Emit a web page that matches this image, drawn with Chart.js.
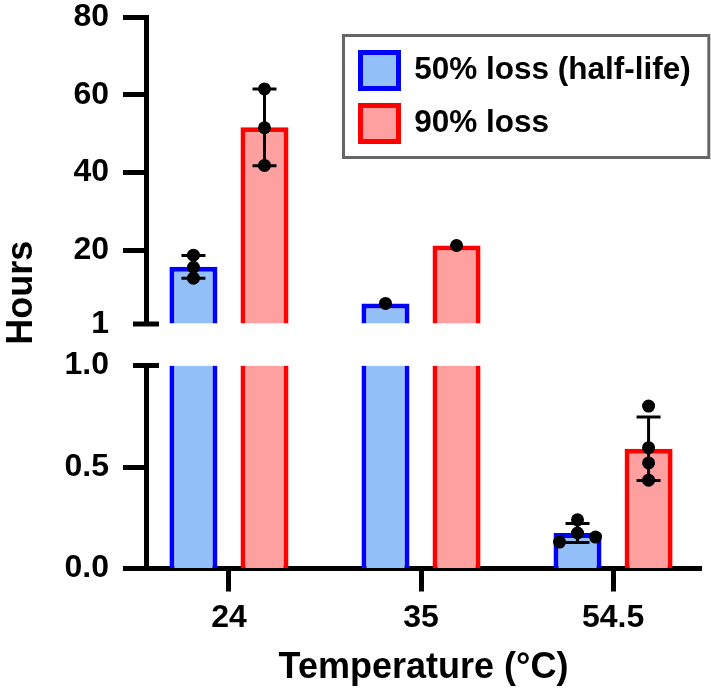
<!DOCTYPE html>
<html>
<head>
<meta charset="utf-8">
<script src="https://cdn.jsdelivr.net/npm/chart.js@4.4.0/dist/chart.umd.min.js"></script>
<style>
  html, body { margin: 0; padding: 0; background: #fff; }
  #wrap { width: 711px; height: 695px; }
</style>
</head>
<body>
<div id="wrap"><canvas id="chart" width="711" height="695"></canvas></div>
<script>
// categories and series
const categories = ['24', '35', '54.5'];
const seriesNames = ['50% loss (half-life)', '90% loss'];

// bar heights (mean hours)
const halfLifeMean = [15.7, 6.3, 0.175];
const ninetyMean = [51.6, 21.2, 0.59];
// standard deviations (null = only one replicate)
const halfLifeSD = [2.95, null, 0.047];
const ninetySD = [9.85, null, 0.156];
// individual replicates
const halfLifeReps = [[18.7, 15.6, 12.8], [6.3], [0.24, 0.175, 0.155, 0.13]];
const ninetyReps = [[61.5, 51.5, 41.8], [21.2], [0.8, 0.595, 0.52, 0.435]];

// axis ticks (y axis is broken at 1)
const topTicks = [1, 20, 40, 60, 80];
const topTickLabels = ['1', '20', '40', '60', '80'];
const bottomTicks = [0, 0.5, 1];
const bottomTickLabels = ['0.0', '0.5', '1.0'];
const BREAK = 1;

const FONT = 'Liberation Sans, Arial, Helvetica, sans-serif';
const tickFont = { family: FONT, size: 32, weight: 'bold' };
const titleFont = { family: FONT, size: 36, weight: 'bold' };
const legendFont = { family: FONT, size: 31.5, weight: 'bold' };

const blueFill = '#93c0f8', blueLine = '#0000ff';
const redFill = '#ffa0a0', redLine = '#ff0000';

const lowPart = vals => vals.map((v, i) => ({ x: i, y: Math.min(v, BREAK) }));
const highPart = vals => vals.map((v, i) => ({ x: i, y: v > BREAK ? v : null }));
// bars cut by the break lose their top border in the lower panel
const lowBorder = c => (c.raw && c.raw.y >= BREAK)
  ? { top: 0, left: 5, right: 5, bottom: 0 }
  : { top: 5, left: 5, right: 5, bottom: 0 };
const highBorder = { top: 5, left: 5, right: 5, bottom: 0 };

const barCommon = { categoryPercentage: 0.74, barPercentage: 0.676, borderSkipped: false };

// fixed width for the y axes, no extra label padding above / below
const fitY = w => s => { s.width = w; s.paddingTop = 0; s.paddingBottom = 0; };

const extras = {
  id: 'extras',
  afterLayout(chart) {
    const lg = chart.legend;
    lg.left = 343.5;
    lg.top = 35.5;
    lg.right = lg.left + lg.width;
  },
  afterDatasetsDraw(chart) {
    const ctx = chart.ctx;
    const yTop = chart.scales.yTop, yBot = chart.scales.yBot;
    const yOf = v => v > BREAK ? yTop.getPixelForValue(v) : yBot.getPixelForValue(v);
    const axisX = chart.chartArea.left;
    ctx.save();
    ctx.strokeStyle = '#000';
    ctx.fillStyle = '#000';
    // caps at the axis break
    ctx.lineWidth = 5;
    [yTop.getPixelForValue(BREAK), yBot.getPixelForValue(BREAK)].forEach(py => {
      ctx.beginPath();
      ctx.moveTo(axisX - 13, py);
      ctx.lineTo(axisX + 13, py);
      ctx.stroke();
    });
    // error bars and replicate dots
    [[halfLifeMean, halfLifeSD, halfLifeReps], [ninetyMean, ninetySD, ninetyReps]].forEach(([means, sds, reps], s) => {
      const bars = chart.getDatasetMeta(s).data;
      means.forEach((m, i) => {
        const cx = bars[i].x;
        if (sds[i] != null) {
          const y1 = yOf(m + sds[i]), y0 = yOf(m - sds[i]);
          ctx.lineWidth = 3;
          ctx.beginPath();
          ctx.moveTo(cx, y1); ctx.lineTo(cx, y0);
          ctx.moveTo(cx - 12, y1); ctx.lineTo(cx + 12, y1);
          ctx.moveTo(cx - 12, y0); ctx.lineTo(cx + 12, y0);
          ctx.stroke();
        }
        const placed = [];
        reps[i].forEach(v => {
          const py = yOf(v);
          let dx = 0;
          for (const off of [0, 18, -18, 36, -36]) {
            if (placed.every(p => Math.hypot(p.x - off, p.y - py) >= 10)) { dx = off; break; }
          }
          placed.push({ x: dx, y: py });
          ctx.beginPath();
          ctx.arc(cx + dx, py, 6.5, 0, Math.PI * 2);
          ctx.fill();
        });
      });
    });
    ctx.restore();
  },
  afterDraw(chart) {
    const lg = chart.legend;
    const hb = lg.legendHitBoxes;
    if (!hb || !hb.length) return;
    const ctx = chart.ctx;
    const l = lg.left, t = lg.top;
    const r = Math.max(...hb.map(h => h.left + h.width)) + 18;
    const last = hb[hb.length - 1];
    const b = last.top + last.height + 16;
    ctx.save();
    ctx.strokeStyle = '#666';
    ctx.lineWidth = 3;
    ctx.strokeRect(l, t, r - l, b - t);
    ctx.restore();
  }
};

const yTickColor = c => (c.tick && c.tick.value === BREAK) ? 'rgba(0,0,0,0)' : '#000';

new Chart(document.getElementById('chart'), {
  type: 'bar',
  data: {
    datasets: [
      { label: seriesNames[0], data: lowPart(halfLifeMean), yAxisID: 'yBot', stack: 'a',
        backgroundColor: blueFill, borderColor: blueLine, borderWidth: lowBorder, ...barCommon },
      { label: seriesNames[1], data: lowPart(ninetyMean), yAxisID: 'yBot', stack: 'b',
        backgroundColor: redFill, borderColor: redLine, borderWidth: lowBorder, ...barCommon },
      { label: seriesNames[0], data: highPart(halfLifeMean), yAxisID: 'yTop', stack: 'a', base: BREAK,
        backgroundColor: blueFill, borderColor: blueLine, borderWidth: highBorder, ...barCommon },
      { label: seriesNames[1], data: highPart(ninetyMean), yAxisID: 'yTop', stack: 'b', base: BREAK,
        backgroundColor: redFill, borderColor: redLine, borderWidth: highBorder, ...barCommon }
    ]
  },
  options: {
    responsive: false,
    animation: false,
    events: [],
    layout: { padding: { top: 17, right: 10, bottom: 0, left: 0 } },
    plugins: {
      tooltip: { enabled: false },
      legend: {
        display: true,
        position: 'chartArea',
        align: 'start',
        labels: {
          boxWidth: 38,
          boxHeight: 36,
          padding: 17,
          color: '#000',
          font: legendFont,
          generateLabels: () => [
            { text: seriesNames[0], fillStyle: blueFill, strokeStyle: blueLine, lineWidth: 5, hidden: false, datasetIndex: 0 },
            { text: seriesNames[1], fillStyle: redFill, strokeStyle: redLine, lineWidth: 5, hidden: false, datasetIndex: 1 }
          ]
        }
      }
    },
    scales: {
      x: {
        type: 'linear',
        offset: false,
        min: -0.432,
        max: 2.458,
        afterBuildTicks: s => { s.ticks = categories.map((c, i) => ({ value: i })); },
        afterFit: s => { s.height = 126.5; },
        ticks: { callback: (v, i) => categories[i], font: tickFont, color: '#000', padding: 7, maxRotation: 0, autoSkip: false },
        grid: { offset: false, drawOnChartArea: false, tickLength: 23, tickWidth: 5, tickColor: '#000' },
        border: { display: true, width: 5, color: '#000' },
        title: { display: true, text: 'Temperature (°C)', font: titleFont, color: '#000', padding: { top: 0, bottom: 5 } }
      },
      yBot: {
        type: 'linear', position: 'left', stack: 'hours', stackWeight: 203, stacked: false,
        min: 0, max: 1,
        afterBuildTicks: s => { s.ticks = bottomTicks.map(v => ({ value: v })); },
        afterFit: fitY(100),
        ticks: { callback: (v, i) => bottomTickLabels[i], font: tickFont, color: '#000', padding: 14 },
        grid: { drawOnChartArea: false, tickLength: 23, tickWidth: 5, tickColor: yTickColor },
        border: { display: true, width: 5, color: '#000' }
      },
      yGap: {
        type: 'linear', position: 'left', stack: 'hours', stackWeight: 41.5,
        min: 0, max: 1,
        afterFit: fitY(100),
        ticks: { display: false },
        grid: { display: false },
        border: { display: false }
      },
      yTop: {
        type: 'linear', position: 'left', stack: 'hours', stackWeight: 307, stacked: false,
        min: 1, max: 80,
        afterBuildTicks: s => { s.ticks = topTicks.map(v => ({ value: v })); },
        afterFit: fitY(100),
        ticks: { callback: (v, i) => topTickLabels[i], font: tickFont, color: '#000', padding: 14 },
        grid: { drawOnChartArea: false, tickLength: 23, tickWidth: 5, tickColor: yTickColor },
        border: { display: true, width: 5, color: '#000' }
      },
      yTitle: {
        type: 'linear', position: 'left', weight: 1,
        min: 0, max: 1,
        afterFit: fitY(46),
        ticks: { display: false },
        grid: { display: false },
        border: { display: false },
        title: { display: true, text: 'Hours', font: titleFont, color: '#000', padding: 0 }
      }
    }
  },
  plugins: [extras]
});
</script>
</body>
</html>
